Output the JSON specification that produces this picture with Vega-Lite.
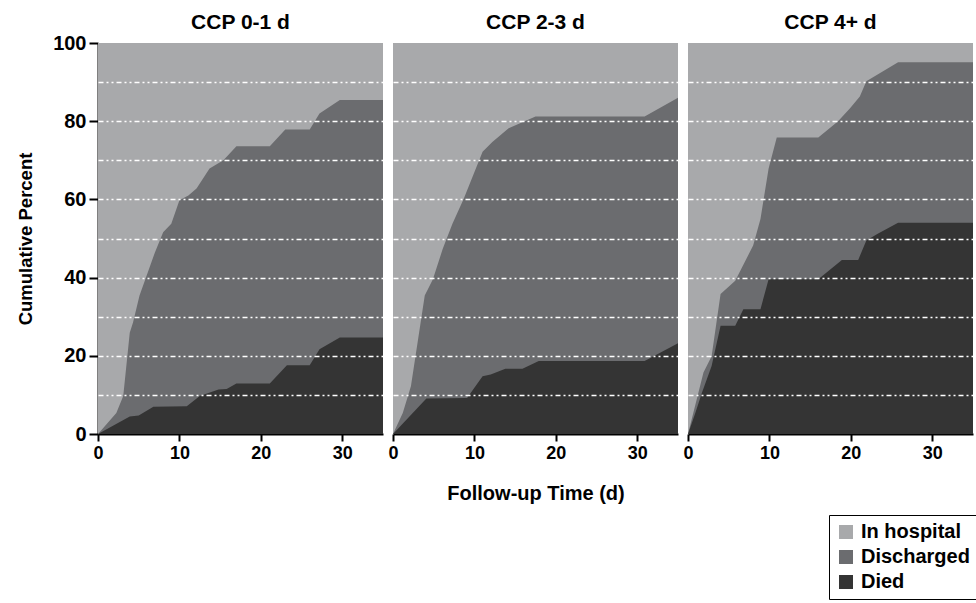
{
  "$schema": "https://vega.github.io/schema/vega-lite/v6.json",
  "padding": {"left": 16, "top": 12, "right": 0, "bottom": 0},
  "data": {"values": [
    {"p":"CCP 0-1 d","s":"In hospital","t":0,"v":100},{"p":"CCP 0-1 d","s":"In hospital","t":35,"v":100},
    {"p":"CCP 2-3 d","s":"In hospital","t":0,"v":100},{"p":"CCP 2-3 d","s":"In hospital","t":35,"v":100},
    {"p":"CCP 4+ d","s":"In hospital","t":0,"v":100},{"p":"CCP 4+ d","s":"In hospital","t":35,"v":100},

    {"p":"CCP 0-1 d","s":"Discharged","t":0,"v":0},{"p":"CCP 0-1 d","s":"Discharged","t":2.25,"v":5.4},{"p":"CCP 0-1 d","s":"Discharged","t":3.1,"v":9.7},{"p":"CCP 0-1 d","s":"Discharged","t":3.9,"v":25.9},{"p":"CCP 0-1 d","s":"Discharged","t":4.3,"v":28.5},{"p":"CCP 0-1 d","s":"Discharged","t":5.1,"v":35.4},{"p":"CCP 0-1 d","s":"Discharged","t":7,"v":46.5},{"p":"CCP 0-1 d","s":"Discharged","t":8,"v":51.6},{"p":"CCP 0-1 d","s":"Discharged","t":9,"v":53.8},{"p":"CCP 0-1 d","s":"Discharged","t":10,"v":59.8},{"p":"CCP 0-1 d","s":"Discharged","t":11.1,"v":61},{"p":"CCP 0-1 d","s":"Discharged","t":12.1,"v":62.8},{"p":"CCP 0-1 d","s":"Discharged","t":13.7,"v":67.9},{"p":"CCP 0-1 d","s":"Discharged","t":15.4,"v":70},{"p":"CCP 0-1 d","s":"Discharged","t":17,"v":73.6},{"p":"CCP 0-1 d","s":"Discharged","t":21.1,"v":73.6},{"p":"CCP 0-1 d","s":"Discharged","t":23,"v":77.9},{"p":"CCP 0-1 d","s":"Discharged","t":26,"v":77.9},{"p":"CCP 0-1 d","s":"Discharged","t":27.2,"v":82},{"p":"CCP 0-1 d","s":"Discharged","t":29.7,"v":85.4},{"p":"CCP 0-1 d","s":"Discharged","t":35,"v":85.4},

    {"p":"CCP 2-3 d","s":"Discharged","t":0,"v":0},{"p":"CCP 2-3 d","s":"Discharged","t":1.2,"v":5.4},{"p":"CCP 2-3 d","s":"Discharged","t":2.2,"v":12.2},{"p":"CCP 2-3 d","s":"Discharged","t":3.9,"v":35.4},{"p":"CCP 2-3 d","s":"Discharged","t":4.9,"v":39.6},{"p":"CCP 2-3 d","s":"Discharged","t":6.1,"v":47.3},{"p":"CCP 2-3 d","s":"Discharged","t":7.3,"v":53.8},{"p":"CCP 2-3 d","s":"Discharged","t":8.7,"v":60.2},{"p":"CCP 2-3 d","s":"Discharged","t":11,"v":72.2},{"p":"CCP 2-3 d","s":"Discharged","t":12.2,"v":74.7},{"p":"CCP 2-3 d","s":"Discharged","t":14.2,"v":78.2},{"p":"CCP 2-3 d","s":"Discharged","t":17.5,"v":81.2},{"p":"CCP 2-3 d","s":"Discharged","t":30.9,"v":81.2},{"p":"CCP 2-3 d","s":"Discharged","t":35,"v":86},

    {"p":"CCP 4+ d","s":"Discharged","t":0,"v":0},{"p":"CCP 4+ d","s":"Discharged","t":1.9,"v":15.7},{"p":"CCP 4+ d","s":"Discharged","t":2.9,"v":19.9},{"p":"CCP 4+ d","s":"Discharged","t":4,"v":35.8},{"p":"CCP 4+ d","s":"Discharged","t":5.8,"v":39.2},{"p":"CCP 4+ d","s":"Discharged","t":8,"v":48.2},{"p":"CCP 4+ d","s":"Discharged","t":8.9,"v":55},{"p":"CCP 4+ d","s":"Discharged","t":9.9,"v":67.9},{"p":"CCP 4+ d","s":"Discharged","t":10.9,"v":75.8},{"p":"CCP 4+ d","s":"Discharged","t":16,"v":75.8},{"p":"CCP 4+ d","s":"Discharged","t":18.4,"v":79.9},{"p":"CCP 4+ d","s":"Discharged","t":19.9,"v":83.3},{"p":"CCP 4+ d","s":"Discharged","t":21.1,"v":86.3},{"p":"CCP 4+ d","s":"Discharged","t":21.9,"v":90.2},{"p":"CCP 4+ d","s":"Discharged","t":25.8,"v":95.1},{"p":"CCP 4+ d","s":"Discharged","t":35,"v":95.1},

    {"p":"CCP 0-1 d","s":"Died","t":0,"v":0},{"p":"CCP 0-1 d","s":"Died","t":3.9,"v":4.5},{"p":"CCP 0-1 d","s":"Died","t":5,"v":4.7},{"p":"CCP 0-1 d","s":"Died","t":6.8,"v":7},{"p":"CCP 0-1 d","s":"Died","t":10.9,"v":7.1},{"p":"CCP 0-1 d","s":"Died","t":12.5,"v":9.7},{"p":"CCP 0-1 d","s":"Died","t":14.8,"v":11.4},{"p":"CCP 0-1 d","s":"Died","t":15.8,"v":11.5},{"p":"CCP 0-1 d","s":"Died","t":17,"v":12.9},{"p":"CCP 0-1 d","s":"Died","t":21.1,"v":12.9},{"p":"CCP 0-1 d","s":"Died","t":23.2,"v":17.6},{"p":"CCP 0-1 d","s":"Died","t":26,"v":17.6},{"p":"CCP 0-1 d","s":"Died","t":27.2,"v":21.7},{"p":"CCP 0-1 d","s":"Died","t":29.7,"v":24.7},{"p":"CCP 0-1 d","s":"Died","t":35,"v":24.7},

    {"p":"CCP 2-3 d","s":"Died","t":0,"v":0},{"p":"CCP 2-3 d","s":"Died","t":4.1,"v":9.1},{"p":"CCP 2-3 d","s":"Died","t":9.1,"v":9.2},{"p":"CCP 2-3 d","s":"Died","t":11,"v":14.8},{"p":"CCP 2-3 d","s":"Died","t":12,"v":15.2},{"p":"CCP 2-3 d","s":"Died","t":13.8,"v":16.7},{"p":"CCP 2-3 d","s":"Died","t":15.9,"v":16.7},{"p":"CCP 2-3 d","s":"Died","t":17.9,"v":18.7},{"p":"CCP 2-3 d","s":"Died","t":30.9,"v":18.7},{"p":"CCP 2-3 d","s":"Died","t":35,"v":23.2},

    {"p":"CCP 4+ d","s":"Died","t":0,"v":0},{"p":"CCP 4+ d","s":"Died","t":0.9,"v":5.4},{"p":"CCP 4+ d","s":"Died","t":1.7,"v":10.5},{"p":"CCP 4+ d","s":"Died","t":2.9,"v":17.4},{"p":"CCP 4+ d","s":"Died","t":4,"v":27.7},{"p":"CCP 4+ d","s":"Died","t":5.8,"v":27.7},{"p":"CCP 4+ d","s":"Died","t":6.8,"v":31.9},{"p":"CCP 4+ d","s":"Died","t":8.9,"v":31.9},{"p":"CCP 4+ d","s":"Died","t":9.9,"v":39.6},{"p":"CCP 4+ d","s":"Died","t":16,"v":39.6},{"p":"CCP 4+ d","s":"Died","t":18.9,"v":44.5},{"p":"CCP 4+ d","s":"Died","t":20.9,"v":44.5},{"p":"CCP 4+ d","s":"Died","t":21.9,"v":49.5},{"p":"CCP 4+ d","s":"Died","t":23.3,"v":51.2},{"p":"CCP 4+ d","s":"Died","t":25.8,"v":54},{"p":"CCP 4+ d","s":"Died","t":35,"v":54}
  ]},
  "facet": {"column": {"field": "p", "type": "nominal", "title": "Follow-up Time (d)", "sort": ["CCP 0-1 d", "CCP 2-3 d", "CCP 4+ d"],
    "header": {"labelOrient": "top", "titleOrient": "bottom", "labelFontSize": 21, "labelFontWeight": "bold", "labelFont": "Liberation Sans", "labelColor": "black", "labelPadding": 10,
      "titleFontSize": 20, "titleFontWeight": "bold", "titleFont": "Liberation Sans", "titleColor": "black", "titlePadding": 12}}},
  "spacing": 10,
  "spec": {
    "width": 285,
    "height": 391,
    "encoding": {
      "x": {"field": "t", "type": "quantitative", "scale": {"domain": [0, 35], "nice": false}, "title": null,
        "axis": {"values": [0, 10, 20, 30], "labelFlush": false, "grid": false, "domainColor": "black", "domainWidth": 2, "tickColor": "black", "tickWidth": 2, "tickSize": 7,
          "labelFontSize": 18, "labelFontWeight": "bold", "labelColor": "black", "labelPadding": 3}},
      "y": {"field": "v", "type": "quantitative", "stack": null, "scale": {"domain": [0, 100], "nice": false}, "title": "Cumulative Percent",
        "axis": {"values": [0, 10, 20, 30, 40, 50, 60, 70, 80, 90, 100],
          "labelExpr": "datum.value % 20 === 0 ? datum.label : ''",
          "tickOpacity": {"condition": {"test": "datum.value % 20 === 0", "value": 1}, "value": 0},
          "gridOpacity": {"condition": {"test": "datum.value > 0 && datum.value < 100", "value": 1}, "value": 0},
          "gridColor": "white", "gridDash": [5, 3, 2, 3, 2, 3], "gridWidth": 1.5, "zindex": 1,
          "domainColor": "black", "domainWidth": 2, "tickColor": "black", "tickWidth": 2, "tickSize": 9,
          "labelFontSize": 20, "labelFontWeight": "bold", "labelColor": "black", "labelPadding": 3,
          "titleFontSize": 18.5, "titleFontWeight": "bold", "titleColor": "black", "titlePadding": 17}},
      "color": {"field": "s", "type": "nominal", "scale": {"domain": ["In hospital", "Discharged", "Died"], "range": ["#a8a9ab", "#6b6c6f", "#343434"]},
        "legend": {"orient": "none", "legendX": 731, "legendY": 472, "title": null, "strokeColor": "black", "fillColor": "white", "padding": 7,
          "labelFontSize": 20, "labelFontWeight": "bold", "labelColor": "black", "symbolType": "square", "symbolSize": 196, "symbolStrokeWidth": 0, "rowPadding": 5, "labelOffset": 5}}
    },
    "layer": [
      {"transform": [{"filter": "datum.s === 'In hospital'"}], "mark": {"type": "area"}},
      {"transform": [{"filter": "datum.s === 'Discharged'"}], "mark": {"type": "area"}},
      {"transform": [{"filter": "datum.s === 'Died'"}], "mark": {"type": "area"}}
    ]
  },
  "config": {"view": {"stroke": null}, "font": "Liberation Sans"}
}
